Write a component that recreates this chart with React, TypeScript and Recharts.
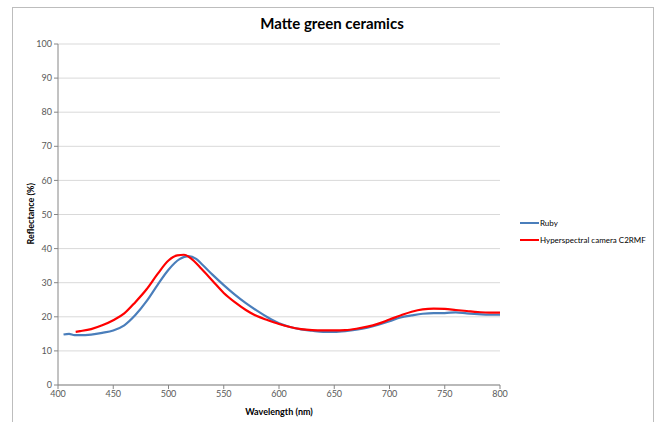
import React from "react";
import { LineChart, Line, XAxis, YAxis, CartesianGrid } from "recharts";

const rubyWavelengths = [405, 410, 415, 420, 430, 440, 450, 460, 470, 480, 490, 500, 510, 518, 525, 530, 540, 550, 560, 570, 580, 590, 600, 610, 620, 630, 640, 650, 660, 670, 680, 690, 700, 710, 720, 730, 740, 750, 760, 770, 780, 790, 800];
const rubyValues = [14.8, 15.0, 14.6, 14.6, 14.8, 15.3, 16.0, 17.5, 20.5, 24.5, 29.3, 33.8, 36.9, 37.8, 37.0, 35.5, 32.3, 29.3, 26.5, 24.0, 21.8, 19.8, 18.1, 17.0, 16.3, 15.9, 15.6, 15.6, 15.8, 16.2, 16.8, 17.7, 18.7, 19.8, 20.4, 20.9, 21.1, 21.1, 21.3, 21.0, 20.8, 20.6, 20.6];

const camWavelengths = [416, 420, 430, 440, 450, 460, 470, 480, 490, 500, 508, 514, 520, 530, 540, 550, 560, 570, 580, 590, 600, 610, 620, 630, 640, 650, 660, 670, 680, 690, 700, 710, 720, 730, 740, 750, 760, 770, 780, 790, 800];
const camValues = [15.6, 15.8, 16.4, 17.5, 19.0, 21.0, 24.3, 28.0, 32.5, 36.5, 38.0, 38.2, 37.2, 34.0, 30.5, 27.0, 24.3, 22.0, 20.2, 19.0, 17.9, 17.0, 16.4, 16.1, 16.0, 16.0, 16.1, 16.5, 17.1, 18.0, 19.2, 20.4, 21.5, 22.2, 22.4, 22.3, 22.0, 21.7, 21.4, 21.2, 21.2];

const xTicks = [400, 450, 500, 550, 600, 650, 700, 750, 800];
const yTicks = [0, 10, 20, 30, 40, 50, 60, 70, 80, 90, 100];

const seriesNames = ["Ruby", "Hyperspectral camera C2RMF"];
const seriesColors = ["#4a7ebb", "#ff0000"];

const rubyData = rubyWavelengths.map((x, i) => ({ x, y: rubyValues[i] }));
const camData = camWavelengths.map((x, i) => ({ x, y: camValues[i] }));

const FONT = "Lato, 'Open Sans', sans-serif";

export default function App() {
  return (
    <div style={{ position: "absolute", left: 0, top: 0, width: 656, height: 422, background: "#fff", fontFamily: FONT }}>
      <div style={{ position: "absolute", left: 12, top: 7, width: 642, height: 430, border: "1px solid #bdbdbd", boxSizing: "border-box" }} />
      <div style={{ position: "absolute", left: 0, top: 14, width: 664, textAlign: "center", fontSize: 15, fontWeight: 700, color: "#000" }}>
        Matte green ceramics
      </div>
      <div style={{ position: "absolute", left: 0, top: 0 }}>
        <LineChart width={656} height={422} margin={{ top: 44, right: 156, bottom: 0, left: 24 }}>
          <CartesianGrid horizontal={true} vertical={false} stroke="#d9d9d9" strokeWidth={1} />
          <XAxis
            type="number"
            dataKey="x"
            domain={[400, 800]}
            ticks={xTicks}
            allowDuplicatedCategory={false}
            stroke="#868686"
            tickSize={4}
            tick={{ fontSize: 9, fill: "#595959", fontFamily: FONT }}
            height={37}
            label={{ value: "Wavelength (nm)", position: "insideBottom", offset: 7, style: { fontSize: 9, fontWeight: 700, fill: "#000", fontFamily: FONT } }}
          />
          <YAxis
            type="number"
            domain={[0, 100]}
            ticks={yTicks}
            stroke="#868686"
            tickSize={4}
            width={34}
            tick={{ fontSize: 9, fill: "#595959", fontFamily: FONT }}
            label={{ value: "Reflectance (%)", angle: -90, position: "insideLeft", offset: 7, dy: 30, style: { fontSize: 9, fontWeight: 700, fill: "#000", fontFamily: FONT } }}
          />
          <Line data={rubyData} dataKey="y" name={seriesNames[0]} type="monotone" stroke={seriesColors[0]} strokeWidth={2.2} dot={false} isAnimationActive={false} />
          <Line data={camData} dataKey="y" name={seriesNames[1]} type="monotone" stroke={seriesColors[1]} strokeWidth={2.2} dot={false} isAnimationActive={false} />
        </LineChart>
      </div>
      <div style={{ position: "absolute", left: 520, top: 214, fontSize: 8, color: "#000" }}>
        {seriesNames.map((n, i) => (
          <div key={n} style={{ display: "flex", alignItems: "center", height: 17 }}>
            <div style={{ width: 19, height: 2, background: seriesColors[i], marginRight: 1 }} />
            <span>{n}</span>
          </div>
        ))}
      </div>
    </div>
  );
}
